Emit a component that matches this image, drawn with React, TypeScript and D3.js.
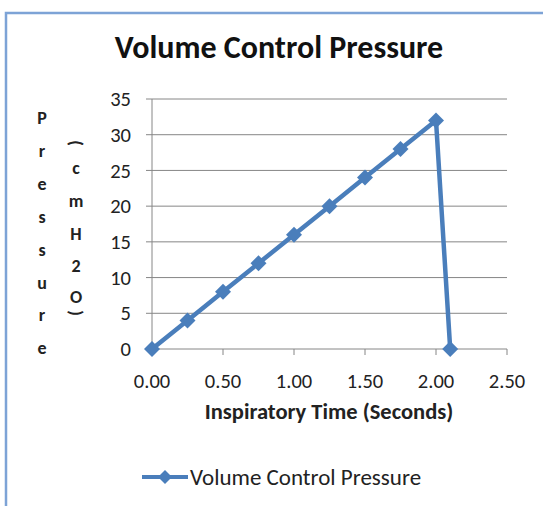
import React from "react";
import * as d3 from "d3";

const times = [0, 0.25, 0.5, 0.75, 1.0, 1.25, 1.5, 1.75, 2.0, 2.1];
const pressures = [0, 4, 8, 12, 16, 20, 24, 28, 32, 0];
const xTicks = [0, 0.5, 1.0, 1.5, 2.0, 2.5];
const yTicks = [0, 5, 10, 15, 20, 25, 30, 35];

const title = "Volume Control Pressure";
const xTitle = "Inspiratory Time (Seconds)";
const yTitle1 = "Pressure".split("");
const yTitle2 = ["(", "c", "m", "H", "2", "O", ")"];
const seriesName = "Volume Control Pressure";

const font = "Carlito, 'Open Sans', sans-serif";
const blue = "#4a7ebb";
const grid = "#868686";

function Diamond(props) {
  const s = props.size;
  return (
    <path
      d={`M${props.x} ${props.y - s} L${props.x + s} ${props.y} L${props.x} ${props.y + s} L${props.x - s} ${props.y} Z`}
      fill={blue}
    />
  );
}

export default function App() {
  const width = 543;
  const height = 506;

  const xScale = d3.scaleLinear().domain([0, 2.5]).range([152, 507]);
  const yScale = d3.scaleLinear().domain([0, 35]).range([349, 99]);

  const line = d3
    .line()
    .x((d) => xScale(d[0]))
    .y((d) => yScale(d[1]));
  const data = times.map((t, i) => [t, pressures[i]]);

  // stacked letters of the y title
  const letterScale = d3.scaleLinear().domain([0, yTitle1.length - 1]).range([118, 348]);
  const letterY2 = [143, 168, 201, 234, 266, 297, 313];

  return (
    <svg
      width={width}
      height={height}
      style={{ position: "absolute", left: 0, top: 0, background: "white" }}
      fontFamily={font}
    >
      <path d={`M6 ${height} V13 H${width}`} fill="none" stroke="#7da3d6" strokeWidth={2.5} />

      <text x={279} y={58} textAnchor="middle" fontSize={32} fontWeight="bold" fill="#111">
        {title}
      </text>

      {yTicks.map((t) => (
        <g key={t}>
          <line x1={146} x2={507} y1={yScale(t)} y2={yScale(t)} stroke={grid} strokeWidth={1} />
          <text x={131} y={yScale(t)} dy="0.35em" textAnchor="end" fontSize={20.5} fill="#222">
            {t}
          </text>
        </g>
      ))}
      <line x1={152} x2={152} y1={yScale(35)} y2={yScale(0)} stroke={grid} strokeWidth={1} />
      {xTicks.map((t) => (
        <g key={t}>
          <line x1={xScale(t)} x2={xScale(t)} y1={yScale(0)} y2={yScale(0) + 6} stroke={grid} strokeWidth={1} />
          <text x={xScale(t)} y={388} textAnchor="middle" fontSize={20.5} fill="#222">
            {t.toFixed(2)}
          </text>
        </g>
      ))}

      <text x={329} y={419} textAnchor="middle" fontSize={22.5} fontWeight="bold" fill="#222">
        {xTitle}
      </text>

      {yTitle1.map((c, i) => (
        <text key={"a" + i} x={42} y={letterScale(i)} dy="0.35em" textAnchor="middle" fontSize={18} fontWeight="bold" fill="#222">
          {c}
        </text>
      ))}
      {yTitle2.map((c, i) => {
        const paren = c === "(" || c === ")";
        return (
          <g key={"b" + i} transform={`translate(76,${letterY2[i]}) rotate(${paren ? 90 : 0})`}>
            <text dy="0.35em" textAnchor="middle" fontSize={18} fontWeight="bold" fill="#222">
              {c}
            </text>
          </g>
        );
      })}

      <path d={line(data)} fill="none" stroke={blue} strokeWidth={4.5} strokeLinejoin="round" />
      {data.map((d, i) => (
        <Diamond key={i} x={xScale(d[0])} y={yScale(d[1])} size={8} />
      ))}

      <line x1={142} x2={188} y1={477} y2={477} stroke={blue} strokeWidth={4} />
      <Diamond x={165} y={477} size={7} />
      <text x={190} y={477} dy="0.35em" fontSize={23} fill="#222">
        {seriesName}
      </text>
    </svg>
  );
}
